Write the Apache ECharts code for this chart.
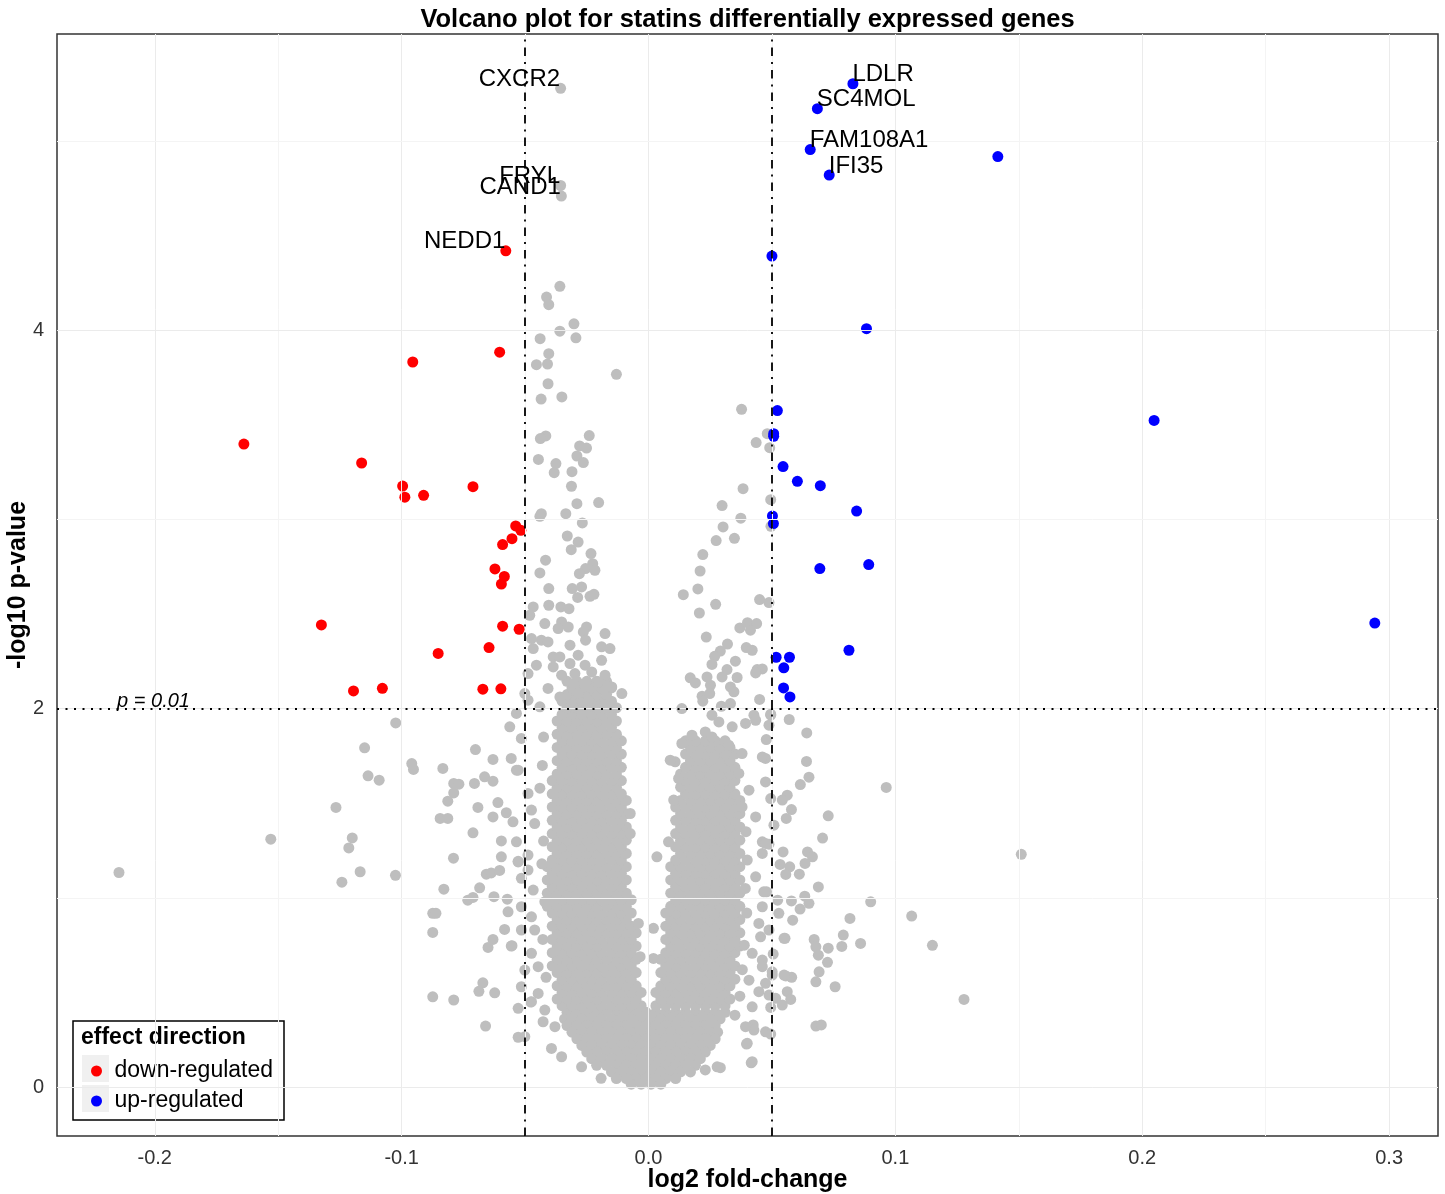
<!DOCTYPE html>
<html>
<head>
<meta charset="utf-8">
<title>Volcano plot</title>
<script src="https://cdn.jsdelivr.net/npm/echarts@6/dist/echarts.min.js"></script>
<style>
  html, body { margin: 0; padding: 0; background: #fff; }
  #chart { width: 1445px; height: 1194px; }
</style>
</head>
<body>
<div id="chart"></div>
<script>
// ---- data (log2 fold-change, -log10 p-value) ----
const xTicks = [-0.2, -0.1, 0, 0.1, 0.2, 0.3]
const yTicks = [0, 2, 4]
const xMinorGrid = [-0.15, -0.05, 0.05, 0.15, 0.25]
const yMinorGrid = [1, 3, 5]
const foldCut = [-0.05, 0.05]
const pCut = 2

// significant, down-regulated
const downX = [-0.0578, -0.0603, -0.0955, -0.1639, -0.1162, -0.0996, -0.0987, -0.0911, -0.0711,
  -0.0538, -0.0517, -0.0553, -0.0591, -0.0622, -0.0584, -0.0596, -0.1325, -0.0591, -0.0524,
  -0.0646, -0.0852, -0.1195, -0.1078, -0.0671, -0.0598]
const downY = [4.421, 3.885, 3.833, 3.399, 3.299, 3.177, 3.118, 3.128, 3.174,
  2.966, 2.943, 2.899, 2.868, 2.739, 2.699, 2.659, 2.443, 2.436, 2.420,
  2.323, 2.292, 2.094, 2.108, 2.103, 2.105]

// significant, up-regulated
const upX = [0.0828, 0.0684, 0.0655, 0.0732, 0.1415, 0.0500, 0.0883, 0.0522, 0.0507, 0.0507,
  0.2048, 0.0545, 0.0603, 0.0696, 0.0843, 0.0502, 0.0506, 0.0694, 0.0892, 0.2942,
  0.0812, 0.0517, 0.0571, 0.0548, 0.0547, 0.0573]
const upY = [5.304, 5.172, 4.956, 4.821, 4.919, 4.393, 4.009, 3.576, 3.454, 3.440,
  3.524, 3.280, 3.202, 3.179, 3.045, 3.019, 2.979, 2.741, 2.762, 2.453,
  2.309, 2.272, 2.272, 2.216, 2.110, 2.062]

// labelled genes
const geneNames = ['CXCR2', 'FRYL', 'CAND1', 'NEDD1', 'LDLR', 'SC4MOL', 'FAM108A1', 'IFI35']
const geneX = [-0.0356, -0.0356, -0.0353, -0.0578, 0.0828, 0.0684, 0.0655, 0.0732]
const geneY = [5.280, 4.766, 4.710, 4.421, 5.304, 5.172, 4.956, 4.821]

// not significant genes (grey)
const grayLabelled = [[-0.0356, 5.280], [-0.0356, 4.766], [-0.0353, 4.710]]

const grayUpperLeft = [
  [-0.0359, 4.233], [-0.0413, 4.176], [-0.0404, 4.136], [-0.0302, 4.035], [-0.0359, 3.996], [-0.0439, 3.956],
  [-0.0294, 3.961], [-0.0404, 3.877], [-0.0454, 3.819], [-0.0409, 3.822], [-0.0130, 3.768], [-0.0407, 3.718],
  [-0.0435, 3.637], [-0.0351, 3.648], [-0.0416, 3.442], [-0.0438, 3.428], [-0.0240, 3.444], [-0.0279, 3.389],
  [-0.0251, 3.378], [-0.0446, 3.318], [-0.0290, 3.336], [-0.0264, 3.301], [-0.0375, 3.296], [-0.0382, 3.248],
  [-0.0310, 3.253], [-0.0312, 3.176], [-0.0290, 3.084], [-0.0202, 3.090], [-0.0434, 3.031], [-0.0440, 3.017],
  [-0.0335, 3.031], [-0.0268, 2.982], [-0.0329, 2.913], [-0.0285, 2.881], [-0.0313, 2.841], [-0.0233, 2.820],
  [-0.0417, 2.785], [-0.0226, 2.767], [-0.0255, 2.741], [-0.0217, 2.732], [-0.0440, 2.718], [-0.0280, 2.714],
  [-0.0404, 2.635], [-0.0309, 2.635], [-0.0271, 2.644], [-0.0287, 2.588], [-0.0237, 2.594], [-0.0221, 2.605],
  [-0.0467, 2.538], [-0.0404, 2.547], [-0.0355, 2.538], [-0.0322, 2.529], [-0.0481, 2.494], [-0.0420, 2.450],
  [-0.0352, 2.459], [-0.0366, 2.424], [-0.0325, 2.432], [-0.0251, 2.432], [-0.0264, 2.406], [-0.0176, 2.397],
  [-0.0474, 2.371], [-0.0434, 2.362], [-0.0407, 2.353], [-0.0318, 2.336], [-0.0255, 2.362], [-0.0190, 2.327],
  [-0.0156, 2.318], [-0.0467, 2.318], [-0.0386, 2.274], [-0.0359, 2.274], [-0.0285, 2.283], [-0.0190, 2.256],
  [-0.0454, 2.230], [-0.0386, 2.221], [-0.0318, 2.239], [-0.0257, 2.230], [-0.0488, 2.186], [-0.0352, 2.177],
  [-0.0298, 2.186], [-0.0230, 2.194], [-0.0176, 2.177], [-0.0407, 2.107], [-0.0305, 2.133], [-0.0257, 2.124],
  [-0.0149, 2.115], [-0.0203, 2.142], [-0.0501, 2.080], [-0.0359, 2.062], [-0.0285, 2.080], [-0.0108, 2.080],
  [-0.0488, 2.045], [-0.0440, 2.010], [-0.0244, 2.045], [-0.0176, 2.018], [-0.0535, 1.975]
]

const grayUpperRight = [
  [0.0377, 3.583], [0.0481, 3.454], [0.0436, 3.407], [0.0491, 3.380], [0.0383, 3.163], [0.0495, 3.105],
  [0.0298, 3.074], [0.0374, 3.007], [0.0302, 2.961], [0.0496, 2.964], [0.0274, 2.889], [0.0348, 2.901],
  [0.0220, 2.815], [0.0209, 2.728], [0.0141, 2.603], [0.0200, 2.633], [0.0272, 2.552], [0.0206, 2.506],
  [0.0450, 2.577], [0.0488, 2.561], [0.0370, 2.427], [0.0401, 2.455], [0.0438, 2.450], [0.0413, 2.415],
  [0.0234, 2.379], [0.0320, 2.342], [0.0291, 2.305], [0.0268, 2.277], [0.0396, 2.323], [0.0420, 2.309],
  [0.0352, 2.251], [0.0257, 2.234], [0.0318, 2.207], [0.0440, 2.207], [0.0461, 2.210], [0.0169, 2.163],
  [0.0190, 2.136], [0.0237, 2.168], [0.0251, 2.124], [0.0298, 2.168], [0.0359, 2.165], [0.0332, 2.115],
  [0.0346, 2.089], [0.0434, 2.189], [0.0217, 2.066], [0.0248, 2.080], [0.0220, 2.040], [0.0450, 2.049],
  [0.0135, 2.001], [0.0295, 2.013], [0.0332, 2.027], [0.0495, 1.971], [0.0257, 1.966], [0.0427, 1.966],
  [0.0461, 1.745], [0.0434, 1.939], [0.0393, 1.922], [0.0339, 1.904], [0.0285, 1.930], [0.0230, 1.877],
  [0.0176, 1.860], [0.0135, 1.816], [0.0108, 1.719], [0.0088, 1.728], [0.0122, 1.631], [0.0102, 1.517],
  [0.0257, 1.851], [0.0325, 1.807], [0.0379, 1.763], [0.0366, 1.658], [0.0407, 1.569], [0.0379, 1.481],
  [0.0434, 1.428]
]

const grayLowerLeft = [
  [-0.1024, 1.925], [-0.1150, 1.793], [-0.1136, 1.645], [-0.1091, 1.622], [-0.0959, 1.710], [-0.0952, 1.679],
  [-0.0833, 1.684], [-0.0701, 1.784], [-0.0630, 1.732], [-0.0562, 1.904], [-0.0556, 1.737], [-0.0515, 1.843],
  [-0.0535, 1.675], [-0.0789, 1.605], [-0.0768, 1.601], [-0.0789, 1.555], [-0.0705, 1.605], [-0.0664, 1.640],
  [-0.0630, 1.617], [-0.0813, 1.511], [-0.1266, 1.478], [-0.0691, 1.478], [-0.0610, 1.504], [-0.0576, 1.450],
  [-0.0844, 1.420], [-0.0813, 1.420], [-0.0630, 1.428], [-0.0549, 1.402], [-0.1200, 1.317], [-0.1214, 1.264],
  [-0.1530, 1.310], [-0.2145, 1.134], [-0.0711, 1.344], [-0.0596, 1.301], [-0.0790, 1.210], [-0.0596, 1.217],
  [-0.0528, 1.193], [-0.1168, 1.138], [-0.1242, 1.083], [-0.1025, 1.119], [-0.0657, 1.125], [-0.0637, 1.132],
  [-0.0603, 1.145], [-0.0829, 1.046], [-0.0684, 1.053], [-0.0732, 0.988], [-0.0711, 1.002], [-0.0626, 1.006],
  [-0.0572, 0.993], [-0.0874, 0.918], [-0.0861, 0.918], [-0.0569, 0.926], [-0.0874, 0.817], [-0.0583, 0.833],
  [-0.0630, 0.780], [-0.0650, 0.738], [-0.0553, 0.747], [-0.0671, 0.551], [-0.0687, 0.506], [-0.0623, 0.498],
  [-0.0874, 0.477], [-0.0789, 0.460], [-0.0528, 0.416], [-0.0477, 0.449], [-0.0660, 0.322], [-0.0528, 0.263],
  [-0.0501, 0.266],
  [-0.0528, 1.675], [-0.0488, 1.552], [-0.0474, 1.464], [-0.0461, 1.393], [-0.0535, 1.296], [-0.0488, 1.226],
  [-0.0528, 1.190], [-0.0488, 1.147], [-0.0515, 1.103], [-0.0467, 1.041], [-0.0515, 0.953], [-0.0474, 0.900],
  [-0.0556, 0.745], [-0.0515, 0.830], [-0.0461, 0.830], [-0.0474, 0.707], [-0.0501, 0.618], [-0.0447, 0.636],
  [-0.0515, 0.530], [-0.0474, 0.451], [-0.0427, 0.345], [-0.0393, 0.204], [-0.0352, 0.160], [-0.0271, 0.107],
  [-0.0192, 0.046], [-0.0447, 0.495], [-0.0420, 0.407], [-0.0379, 0.319],
  [-0.0425, 1.850], [-0.0430, 1.700], [-0.0440, 1.580], [-0.0425, 1.300], [-0.0432, 1.180], [-0.0420, 0.980],
  [-0.0428, 0.780], [-0.0415, 0.580]
]

const grayGap = [
  [0.0081, 1.296], [0.0034, 1.217], [0.0020, 0.839], [0.0020, 0.680], [-0.0041, 0.865], [-0.0034, 0.689],
  [-0.0074, 1.340], [-0.0074, 1.446]
]

const grayLowerRight = [
  [0.0570, 1.943], [0.0641, 1.872], [0.0640, 1.721], [0.0650, 1.638], [0.0615, 1.599], [0.0963, 1.584],
  [0.0562, 1.543], [0.0542, 1.517], [0.0579, 1.467], [0.0558, 1.420], [0.0728, 1.434], [0.0705, 1.316],
  [0.0545, 1.243], [0.0644, 1.243], [0.0664, 1.217], [0.1510, 1.230], [0.0533, 1.177], [0.0572, 1.164],
  [0.0556, 1.124], [0.0611, 1.125], [0.0634, 1.182], [0.0688, 1.058], [0.0523, 0.988], [0.0579, 0.984],
  [0.0633, 1.009], [0.0650, 0.971], [0.0614, 0.941], [0.0900, 0.979], [0.1066, 0.904], [0.0528, 0.918],
  [0.0584, 0.882], [0.0816, 0.891], [0.0553, 0.786], [0.0671, 0.780], [0.0789, 0.803], [0.0678, 0.741],
  [0.0728, 0.734], [0.0783, 0.743], [0.0859, 0.759], [0.1150, 0.749], [0.0688, 0.697], [0.0725, 0.659],
  [0.0691, 0.609], [0.0678, 0.556], [0.0756, 0.530], [0.0505, 0.703], [0.0556, 0.587], [0.0580, 0.580],
  [0.0501, 0.592], [0.0562, 0.504], [0.0576, 0.463], [0.0515, 0.469], [0.0542, 0.433], [0.1278, 0.463],
  [0.0495, 0.421], [0.0678, 0.322], [0.0700, 0.328], [0.0424, 0.328], [0.0427, 0.301], [0.0474, 0.292],
  [0.0495, 0.280], [0.0397, 0.227], [0.0416, 0.128], [0.0291, 0.102],
  [0.0495, 1.966], [0.0488, 1.913], [0.0477, 1.837], [0.0474, 1.737], [0.0474, 1.613], [0.0495, 1.525],
  [0.0508, 1.384], [0.0461, 1.296], [0.0488, 1.284], [0.0461, 1.235], [0.0478, 1.032], [0.0461, 0.953],
  [0.0488, 0.830], [0.0454, 0.794], [0.0461, 0.671], [0.0501, 0.609], [0.0474, 0.548], [0.0488, 0.486],
  [0.0400, 0.231], [0.0420, 0.134], [0.0278, 0.107], [0.0230, 0.090], [0.0549, 0.592], [0.0549, 0.786],
  [0.0474, 1.288], [0.0434, 1.111], [0.0467, 1.032], [0.0447, 0.865], [0.0420, 0.707], [0.0461, 0.636],
  [0.0407, 0.565], [0.0447, 0.504], [0.0393, 0.319], [0.0420, 0.424],
  [0.0395, 1.350], [0.0400, 1.200], [0.0392, 1.050], [0.0398, 0.920], [0.0388, 0.750], [0.0380, 0.620],
  [0.0370, 0.480], [0.0350, 0.380]
]

// dense core of the volcano, read row by row: [p-value level, fold-changes]
const leftArmRows = [
  [0.430, [-.035, -.031, -.027, -.023, -.019, -.015, -.011, -.007, -.003]],
  [0.465, [-.037, -.033, -.029, -.025, -.021, -.017, -.013, -.009, -.005]],
  [0.500, [-.035, -.031, -.027, -.023, -.019, -.015, -.011, -.007, -.003]],
  [0.535, [-.037, -.033, -.029, -.025, -.021, -.017, -.013, -.009, -.005]],
  [0.570, [-.035, -.031, -.027, -.023, -.019, -.015, -.011, -.007]],
  [0.605, [-.037, -.033, -.029, -.025, -.021, -.017, -.013, -.009, -.005]],
  [0.640, [-.039, -.035, -.031, -.027, -.023, -.019, -.015, -.011, -.007]],
  [0.675, [-.037, -.033, -.029, -.025, -.021, -.017, -.013, -.009, -.005]],
  [0.710, [-.039, -.035, -.031, -.027, -.023, -.019, -.015, -.011, -.007]],
  [0.745, [-.037, -.033, -.029, -.025, -.021, -.017, -.013, -.009, -.005]],
  [0.780, [-.039, -.035, -.031, -.027, -.023, -.019, -.015, -.011, -.007]],
  [0.815, [-.037, -.033, -.029, -.025, -.021, -.017, -.013, -.009, -.005]],
  [0.850, [-.039, -.035, -.031, -.027, -.023, -.019, -.015, -.011, -.007]],
  [0.885, [-.037, -.033, -.029, -.025, -.021, -.017, -.013, -.009]],
  [0.920, [-.039, -.035, -.031, -.027, -.023, -.019, -.015, -.011, -.007]],
  [0.955, [-.041, -.037, -.033, -.029, -.025, -.021, -.017, -.013, -.009]],
  [0.990, [-.039, -.035, -.031, -.027, -.023, -.019, -.015, -.011, -.007]],
  [1.025, [-.041, -.037, -.033, -.029, -.025, -.021, -.017, -.013, -.009]],
  [1.060, [-.039, -.035, -.031, -.027, -.023, -.019, -.015, -.011]],
  [1.095, [-.041, -.037, -.033, -.029, -.025, -.021, -.017, -.013, -.009]],
  [1.130, [-.039, -.035, -.031, -.027, -.023, -.019, -.015, -.011]],
  [1.165, [-.041, -.037, -.033, -.029, -.025, -.021, -.017, -.013, -.009]],
  [1.200, [-.039, -.035, -.031, -.027, -.023, -.019, -.015, -.011]],
  [1.235, [-.037, -.033, -.029, -.025, -.021, -.017, -.013, -.009]],
  [1.270, [-.039, -.035, -.031, -.027, -.023, -.019, -.015, -.011]],
  [1.305, [-.037, -.033, -.029, -.025, -.021, -.017, -.013, -.009]],
  [1.340, [-.039, -.035, -.031, -.027, -.023, -.019, -.015, -.011]],
  [1.375, [-.037, -.033, -.029, -.025, -.021, -.017, -.013, -.009]],
  [1.410, [-.039, -.035, -.031, -.027, -.023, -.019, -.015, -.011]],
  [1.445, [-.037, -.033, -.029, -.025, -.021, -.017, -.013, -.009]],
  [1.480, [-.039, -.035, -.031, -.027, -.023, -.019, -.015, -.011]],
  [1.515, [-.037, -.033, -.029, -.025, -.021, -.017, -.013, -.009]],
  [1.550, [-.039, -.035, -.031, -.027, -.023, -.019, -.015, -.011]],
  [1.585, [-.037, -.033, -.029, -.025, -.021, -.017, -.013]],
  [1.620, [-.039, -.035, -.031, -.027, -.023, -.019, -.015, -.011]],
  [1.655, [-.037, -.033, -.029, -.025, -.021, -.017, -.013]],
  [1.690, [-.035, -.031, -.027, -.023, -.019, -.015, -.011]],
  [1.725, [-.037, -.033, -.029, -.025, -.021, -.017, -.013]],
  [1.760, [-.035, -.031, -.027, -.023, -.019, -.015, -.011]],
  [1.795, [-.037, -.033, -.029, -.025, -.021, -.017, -.013]],
  [1.830, [-.035, -.031, -.027, -.023, -.019, -.015, -.011]],
  [1.865, [-.037, -.033, -.029, -.025, -.021, -.017, -.013]],
  [1.900, [-.035, -.031, -.027, -.023, -.019, -.015]],
  [1.935, [-.037, -.033, -.029, -.025, -.021, -.017, -.013]],
  [1.970, [-.035, -.031, -.027, -.023, -.019, -.015]],
  [2.005, [-.033, -.029, -.025, -.021, -.017, -.013]],
  [2.040, [-.035, -.031, -.027, -.023, -.019, -.015]],
  [2.075, [-.033, -.029, -.025, -.021, -.017]],
  [2.110, [-.031, -.027, -.023, -.019, -.015]],
  [2.145, [-.033, -.029, -.025, -.021, -.017]]
]

const rightArmRows = [
  [0.430, [.003, .007, .011, .015, .019, .023, .027, .031]],
  [0.465, [.005, .009, .013, .017, .021, .025, .029, .033]],
  [0.500, [.003, .007, .011, .015, .019, .023, .027, .031]],
  [0.535, [.005, .009, .013, .017, .021, .025, .029, .033]],
  [0.570, [.007, .011, .015, .019, .023, .027, .031, .035]],
  [0.605, [.005, .009, .013, .017, .021, .025, .029, .033]],
  [0.640, [.007, .011, .015, .019, .023, .027, .031, .035]],
  [0.675, [.005, .009, .013, .017, .021, .025, .029, .033]],
  [0.710, [.007, .011, .015, .019, .023, .027, .031, .035]],
  [0.745, [.009, .013, .017, .021, .025, .029, .033, .037]],
  [0.780, [.007, .011, .015, .019, .023, .027, .031, .035]],
  [0.815, [.009, .013, .017, .021, .025, .029, .033, .037]],
  [0.850, [.007, .011, .015, .019, .023, .027, .031, .035]],
  [0.885, [.009, .013, .017, .021, .025, .029, .033, .037]],
  [0.920, [.007, .011, .015, .019, .023, .027, .031, .035]],
  [0.955, [.009, .013, .017, .021, .025, .029, .033, .037]],
  [0.990, [.011, .015, .019, .023, .027, .031, .035]],
  [1.025, [.009, .013, .017, .021, .025, .029, .033, .037]],
  [1.060, [.011, .015, .019, .023, .027, .031, .035]],
  [1.095, [.009, .013, .017, .021, .025, .029, .033, .037]],
  [1.130, [.011, .015, .019, .023, .027, .031, .035]],
  [1.165, [.009, .013, .017, .021, .025, .029, .033, .037]],
  [1.200, [.011, .015, .019, .023, .027, .031, .035]],
  [1.235, [.013, .017, .021, .025, .029, .033, .037]],
  [1.270, [.011, .015, .019, .023, .027, .031, .035]],
  [1.305, [.013, .017, .021, .025, .029, .033, .037]],
  [1.340, [.011, .015, .019, .023, .027, .031, .035]],
  [1.375, [.013, .017, .021, .025, .029, .033, .037]],
  [1.410, [.011, .015, .019, .023, .027, .031, .035]],
  [1.445, [.013, .017, .021, .025, .029, .033, .037]],
  [1.480, [.011, .015, .019, .023, .027, .031, .035]],
  [1.515, [.013, .017, .021, .025, .029, .033, .037]],
  [1.550, [.015, .019, .023, .027, .031, .035]],
  [1.585, [.013, .017, .021, .025, .029, .033]],
  [1.620, [.015, .019, .023, .027, .031, .035]],
  [1.655, [.013, .017, .021, .025, .029, .033]],
  [1.690, [.015, .019, .023, .027, .031, .035]],
  [1.725, [.017, .021, .025, .029, .033]],
  [1.760, [.015, .019, .023, .027, .031, .035]],
  [1.795, [.017, .021, .025, .029, .033]],
  [1.830, [.015, .019, .023, .027, .031]]
]

const baseRows = [
  [0.395, [-.033, -.029, -.025, -.021, -.017, -.013, -.009, -.005, -.001, .003, .007, .011, .015, .019, .023, .027, .031]],
  [0.360, [-.034, -.031, -.027, -.023, -.019, -.015, -.011, -.007, -.003, .001, .005, .009, .013, .017, .021, .025, .029]],
  [0.325, [-.033, -.029, -.025, -.021, -.017, -.013, -.009, -.005, -.001, .003, .007, .011, .015, .019, .023, .027]],
  [0.290, [-.031, -.027, -.023, -.019, -.015, -.011, -.007, -.003, .001, .005, .009, .013, .017, .021, .025, .028]],
  [0.255, [-.029, -.025, -.021, -.017, -.013, -.009, -.005, -.001, .003, .007, .011, .015, .019, .023, .027]],
  [0.220, [-.027, -.023, -.019, -.015, -.011, -.007, -.003, .001, .005, .009, .013, .017, .021, .025]],
  [0.185, [-.025, -.021, -.017, -.013, -.009, -.005, -.001, .003, .007, .011, .015, .019, .023]],
  [0.150, [-.023, -.019, -.015, -.011, -.007, -.003, .001, .005, .009, .013, .017, .021]],
  [0.115, [-.021, -.017, -.013, -.009, -.005, -.001, .003, .007, .011, .015, .019]],
  [0.080, [-.015, -.011, -.007, -.003, .001, .005, .009, .013, .017]],
  [0.045, [-.013, -.009, -.005, -.001, .003, .007, .011]],
  [0.015, [-.007, -.003, .001, .005]]
]

// annotation on the p threshold line
const pNoteText = 'p = 0.01'
const pNoteX = -0.2003

// ---- build ----
const FONT = "'Liberation Sans', Arial, Helvetica, sans-serif"

function rowsToPoints(rows) {
  let res = []
  rows.forEach(([y, xs]) => {
    xs.forEach((x) => res.push([x, y]))
  })
  return res
}
function zip(xs, ys) {
  return xs.map((x, i) => [x, ys[i]])
}

const grayData = [].concat(
  rowsToPoints(baseRows), rowsToPoints(leftArmRows), rowsToPoints(rightArmRows),
  grayGap, grayLowerLeft, grayLowerRight, grayUpperLeft, grayUpperRight, grayLabelled
)

const gridLines = [].concat(
  xTicks.map((v) => ({xAxis: v})),
  xMinorGrid.map((v) => ({xAxis: v, lineStyle: {color: '#f4f4f4'}})),
  yTicks.map((v) => ({yAxis: v})),
  yMinorGrid.map((v) => ({yAxis: v, lineStyle: {color: '#f4f4f4'}}))
)

const labelData = geneNames.map((name, i) => {
  const onRight = geneX[i] > 0
  return {
    value: [geneX[i], geneY[i]],
    label: {
      show: true,
      formatter: name,
      position: [0, 0],
      align: onRight ? 'left' : 'right',
      verticalAlign: 'middle',
      offset: [0, -8.5],
      fontSize: 24,
      color: '#000',
      opacity: 1,
      textBorderWidth: 0,
      fontFamily: FONT
    }
  }
})
labelData.push({
  value: [pNoteX, pCut],
  label: {
    show: true,
    formatter: pNoteText,
    position: [0, 0],
    align: 'center',
    verticalAlign: 'middle',
    offset: [0, -7],
    fontSize: 20,
    fontStyle: 'italic',
    color: '#000',
    opacity: 1,
    textBorderWidth: 0,
    fontFamily: FONT
  }
})

const chart = echarts.init(document.getElementById('chart'))

const option = {
  animation: false,
  backgroundColor: '#fff',
  textStyle: {fontFamily: FONT},
  title: {
    text: 'Volcano plot for statins differentially expressed genes',
    left: 747.5,
    top: 7,
    padding: 0,
    textAlign: 'center',
    textStyle: {fontSize: 25.5, fontWeight: 'bold', color: '#000', lineHeight: 26, fontFamily: FONT}
  },
  grid: {
    left: 57,
    top: 34,
    width: 1381,
    height: 1102,
    show: true,
    backgroundColor: '#fff',
    borderColor: '#333',
    borderWidth: 1.5,
    containLabel: false,
    outerBoundsMode: 'none'
  },
  legend: {
    data: ['down-regulated', 'up-regulated'],
    orient: 'vertical',
    left: 81,
    top: 1023,
    padding: [35, 8, 8, 10],
    itemWidth: 26,
    itemHeight: 11,
    itemGap: 4,
    icon: 'circle',
    selectedMode: false,
    z: 5,
    textStyle: {fontSize: 23, lineHeight: 26, color: '#000', fontFamily: FONT}
  },
  graphic: [
    {type: 'rect', shape: {x: 73, y: 1021, width: 211, height: 99}, style: {fill: '#fff', stroke: '#000', lineWidth: 1.5}, z: 3},
    {type: 'rect', shape: {x: 82, y: 1055, width: 27, height: 27}, style: {fill: '#f0f0f0'}, z: 3},
    {type: 'rect', shape: {x: 82, y: 1085, width: 27, height: 27}, style: {fill: '#f0f0f0'}, z: 3},
    {type: 'text', x: 81, y: 1038, style: {text: 'effect direction', font: 'bold 23px ' + FONT, fill: '#000', verticalAlign: 'middle'}, z: 3}
  ],
  xAxis: {
    type: 'value',
    min: -0.2396,
    max: 0.3198,
    name: 'log2 fold-change',
    nameLocation: 'middle',
    nameGap: 44,
    nameMoveOverlap: false,
    nameTextStyle: {fontSize: 25, fontWeight: 'bold', color: '#000', verticalAlign: 'middle', fontFamily: FONT},
    axisLine: {show: false},
    splitLine: {show: false},
    axisTick: {show: true, customValues: xTicks, length: 5, lineStyle: {color: '#333'}},
    axisLabel: {
      customValues: xTicks,
      formatter: (v) => v.toFixed(1),
      fontSize: 20,
      color: '#333',
      margin: 12,
      fontFamily: FONT
    }
  },
  yAxis: {
    type: 'value',
    min: -0.259,
    max: 5.567,
    name: '-log10 p-value',
    nameLocation: 'middle',
    nameGap: 39,
    nameRotate: 90,
    nameMoveOverlap: false,
    nameTextStyle: {fontSize: 25, fontWeight: 'bold', color: '#000', verticalAlign: 'middle', fontFamily: FONT},
    axisLine: {show: false},
    splitLine: {show: false},
    axisTick: {show: true, customValues: yTicks, length: 5, lineStyle: {color: '#333'}},
    axisLabel: {
      customValues: yTicks,
      formatter: (v) => String(v),
      fontSize: 20,
      color: '#333',
      margin: 13,
      fontFamily: FONT
    }
  },
  series: [
    {
      // background grid
      name: 'grid',
      type: 'scatter',
      data: [],
      z: 1,
      silent: true,
      markLine: {
        silent: true,
        symbol: 'none',
        label: {show: false},
        lineStyle: {color: '#ebebeb', width: 1, type: 'solid'},
        data: gridLines
      }
    },
    {
      name: 'not significant',
      type: 'scatter',
      symbolSize: 11,
      z: 2,
      itemStyle: {color: '#bebebe', opacity: 1},
      data: grayData
    },
    {
      name: 'down-regulated',
      type: 'scatter',
      symbolSize: 11,
      z: 3,
      itemStyle: {color: '#ff0000', opacity: 1},
      data: zip(downX, downY)
    },
    {
      name: 'up-regulated',
      type: 'scatter',
      symbolSize: 11,
      z: 3,
      itemStyle: {color: '#0000ff', opacity: 1},
      data: zip(upX, upY)
    },
    {
      // thresholds
      name: 'cutoffs',
      type: 'scatter',
      data: [],
      z: 4,
      silent: true,
      markLine: {
        silent: true,
        symbol: 'none',
        label: {show: false},
        data: [
          {xAxis: foldCut[0], lineStyle: {color: '#000', width: 1.8, type: [8.5, 6, 2, 6]}},
          {xAxis: foldCut[1], lineStyle: {color: '#000', width: 1.8, type: [8.5, 6, 2, 6]}},
          {yAxis: pCut, lineStyle: {color: '#000', width: 2, type: [2, 6.5]}}
        ]
      }
    },
    {
      name: 'labels',
      type: 'scatter',
      symbolSize: 1,
      z: 6,
      silent: true,
      itemStyle: {color: '#000', opacity: 0},
      data: labelData
    }
  ]
}

chart.setOption(option)
</script>
</body>
</html>
